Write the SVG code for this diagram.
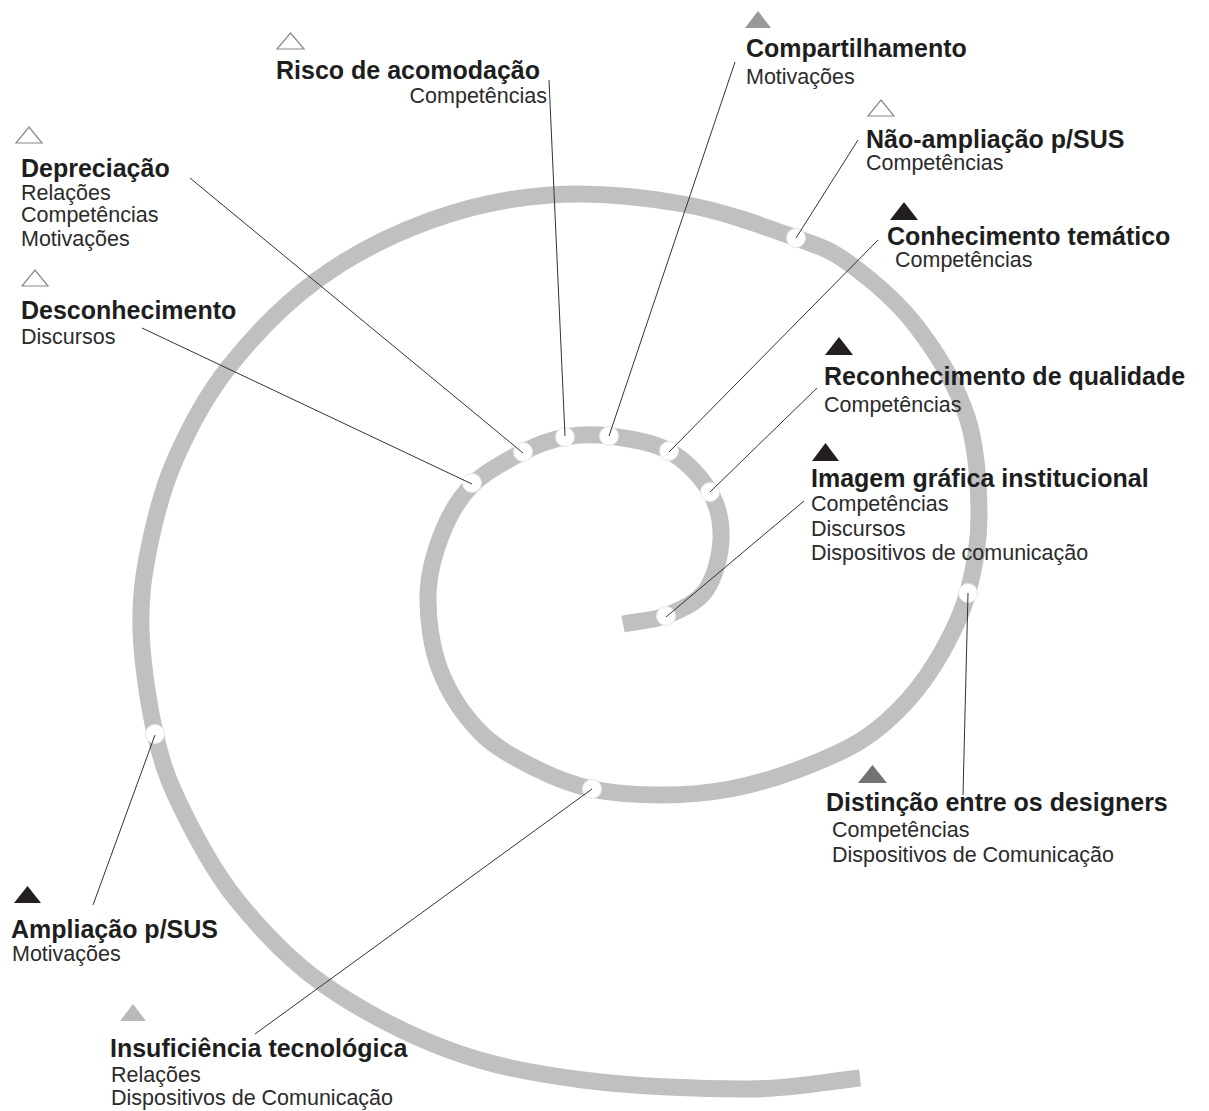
<svg xmlns="http://www.w3.org/2000/svg" width="1209" height="1111" viewBox="0 0 1209 1111">
  <style>
    .title { font-family: "Liberation Sans", Arial, sans-serif; font-weight: bold; font-size: 25px; fill: #1e1e1e; }
    .sub { font-family: "Liberation Sans", Arial, sans-serif; font-size: 21.5px; fill: #2b2b2b; }
    .spiral { fill: none; stroke: #c0c0c0; stroke-width: 17; stroke-linecap: butt; }
    .node { fill: #ffffff; stroke: #e6e6e6; stroke-width: 1; }
    .link { fill: none; stroke: #333333; stroke-width: 1; }
    .tri-open { fill: #ffffff; stroke: #8a8a8a; stroke-width: 1.2; }
    .tri-black { fill: #231f20; }
    .tri-mid { fill: #999999; }
    .tri-dark { fill: #727272; }
    .tri-light { fill: #b9b9b9; }
  </style>
  <rect width="1209" height="1111" fill="#ffffff"/>

  <!-- spiral band, from the inner end outwards -->
  <path class="spiral" d="M 623 624 C 638 621, 654.2 620.7, 668 615
    S 697.2 602.5, 706 590 S 720.3 556.3, 721 540 S 718.7 506.8, 710 492
    S 685.8 460.3, 669 451 S 626.3 438.3, 609 436 S 579.3 434.3, 565 437
    S 538.3 444.2, 523 452 S 486.3 470.8, 473 484 S 450.5 512.5, 443 531
    S 428.5 571.8, 428 595 S 431.3 647.2, 440 670 S 464.2 715.7, 480 732
    S 516.3 758.5, 535 768 S 570.7 784.5, 592 789 S 640 795, 663 795
    S 707.7 793.2, 730 789 S 775 778.2, 797 770 S 843.5 751.7, 862 740
    S 894.5 715, 908 700 S 933 668, 943 650 S 962 614.5, 968 592
    S 979.2 544.2, 979 515 S 977.3 448.3, 967 417 S 936.5 352.5, 917 327
    S 870.2 278.8, 850 264 S 823.8 248, 796 238 S 724 211.2, 683 204
    S 592.3 192.2, 550 195 S 467.8 206.8, 429 221 S 350.5 255.5, 317 280
    S 251.7 338, 228 368 S 188.2 430, 175 460 S 154.7 519.7, 149 548
    S 140 599.2, 141 630 S 148.3 703.5, 155 733 S 167.5 779.3, 181 807
    S 212.3 869.5, 236 899 S 287.5 958.8, 323 984 S 405.7 1034, 449 1050
    S 532.8 1073.5, 583 1080 S 703.8 1089.3, 750 1089 S 823.3 1081.7, 860 1078"/>

  <!-- attachment points on the band -->
  <g id="points">
    <circle class="node" cx="666" cy="616" r="9.5"/>
    <circle class="node" cx="710" cy="492" r="9.5"/>
    <circle class="node" cx="669" cy="451" r="9.5"/>
    <circle class="node" cx="609" cy="436" r="9.5"/>
    <circle class="node" cx="565" cy="437" r="9.5"/>
    <circle class="node" cx="523" cy="452" r="9.5"/>
    <circle class="node" cx="472" cy="483" r="9.5"/>
    <circle class="node" cx="592" cy="789" r="9.5"/>
    <circle class="node" cx="968" cy="593" r="9.5"/>
    <circle class="node" cx="796" cy="238" r="9.5"/>
    <circle class="node" cx="155" cy="734" r="9.5"/>
  </g>

  <!-- leader lines -->
  <g id="connectors">
    <line class="link" x1="549" y1="80" x2="565" y2="436"/>
    <line class="link" x1="735" y1="62" x2="609" y2="436"/>
    <line class="link" x1="858" y1="140" x2="796" y2="238"/>
    <line class="link" x1="878" y1="240" x2="669" y2="452"/>
    <line class="link" x1="817" y1="388" x2="710" y2="492"/>
    <line class="link" x1="804" y1="501" x2="666" y2="617"/>
    <line class="link" x1="963" y1="795" x2="968" y2="593"/>
    <line class="link" x1="255" y1="1034" x2="592" y2="789"/>
    <line class="link" x1="93" y1="905" x2="155" y2="735"/>
    <line class="link" x1="142" y1="328" x2="472" y2="484"/>
    <line class="link" x1="190" y1="178" x2="523" y2="453"/>
  </g>

  <g id="risco">
    <polygon class="tri-open" points="277,49 304,49 290.5,33"/>
    <text class="title" x="276" y="79">Risco de acomodação</text>
    <text class="sub" x="547" y="103" text-anchor="end">Competências</text>
  </g>

  <g id="compartilhamento">
    <polygon class="tri-mid" points="745,28 771,28 758,11"/>
    <text class="title" x="746" y="57">Compartilhamento</text>
    <text class="sub" x="746" y="84">Motivações</text>
  </g>

  <g id="nao-ampliacao">
    <polygon class="tri-open" points="868,116 894,116 881,100"/>
    <text class="title" x="866" y="148">Não-ampliação p/SUS</text>
    <text class="sub" x="866" y="170">Competências</text>
  </g>

  <g id="conhecimento">
    <polygon class="tri-black" points="890,220 918,220 904,202"/>
    <text class="title" x="887" y="245">Conhecimento temático</text>
    <text class="sub" x="895" y="267">Competências</text>
  </g>

  <g id="reconhecimento">
    <polygon class="tri-black" points="825,355 853,355 839,337"/>
    <text class="title" x="824" y="385">Reconhecimento de qualidade</text>
    <text class="sub" x="824" y="412">Competências</text>
  </g>

  <g id="imagem">
    <polygon class="tri-black" points="812,461 839,461 825.5,443"/>
    <text class="title" x="811" y="487">Imagem gráfica institucional</text>
    <text class="sub" x="811" y="511">Competências</text>
    <text class="sub" x="811" y="536">Discursos</text>
    <text class="sub" x="811" y="560">Dispositivos de comunicação</text>
  </g>

  <g id="distincao">
    <polygon class="tri-dark" points="858,783 887,783 872.5,765"/>
    <text class="title" x="826" y="811">Distinção entre os designers</text>
    <text class="sub" x="832" y="837">Competências</text>
    <text class="sub" x="832" y="862">Dispositivos de Comunicação</text>
  </g>

  <g id="insuficiencia">
    <polygon class="tri-light" points="120,1021 146,1021 133,1004"/>
    <text class="title" x="110" y="1057">Insuficiência tecnológica</text>
    <text class="sub" x="111" y="1082">Relações</text>
    <text class="sub" x="111" y="1105">Dispositivos de Comunicação</text>
  </g>

  <g id="ampliacao">
    <polygon class="tri-black" points="14,903 41,903 27.5,886"/>
    <text class="title" x="11" y="938">Ampliação p/SUS</text>
    <text class="sub" x="12" y="961">Motivações</text>
  </g>

  <g id="desconhecimento">
    <polygon class="tri-open" points="22,286 48,286 35,270"/>
    <text class="title" x="21" y="319">Desconhecimento</text>
    <text class="sub" x="21" y="344">Discursos</text>
  </g>

  <g id="depreciacao">
    <polygon class="tri-open" points="16,143 42,143 29,127"/>
    <text class="title" x="21" y="177">Depreciação</text>
    <text class="sub" x="21" y="200">Relações</text>
    <text class="sub" x="21" y="222">Competências</text>
    <text class="sub" x="21" y="246">Motivações</text>
  </g>
</svg>
